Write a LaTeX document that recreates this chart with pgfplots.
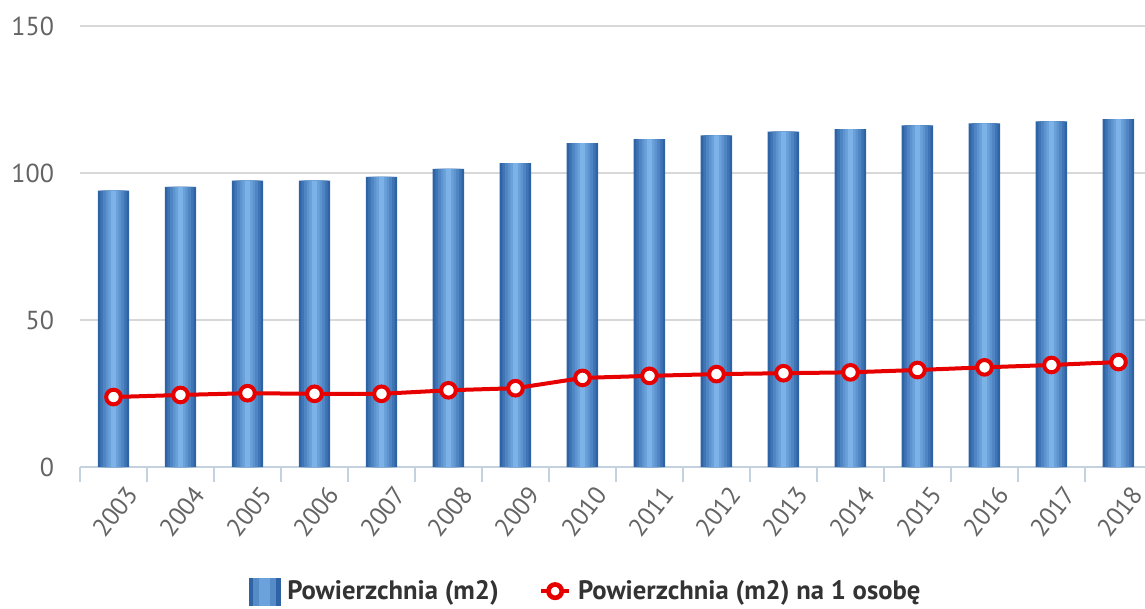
\documentclass[border=0pt]{standalone}
\usepackage{fontspec}
\setmainfont{PT Sans}
\usepackage{pgfplots}
\usepackage{pgfplotstable}
\pgfplotsset{compat=1.18}
\definecolor{barEdge}{RGB}{46,100,166}
\definecolor{barMid}{RGB}{124,178,232}
\definecolor{lineRed}{RGB}{230,0,0}
\definecolor{gridGray}{RGB}{216,216,216}
\definecolor{axisBlue}{RGB}{196,210,224}
\definecolor{tickGray}{RGB}{100,100,100}

\pgfplotstableread{
year area perperson
2003 94.0  23.8
2004 95.3  24.5
2005 97.4  25.1
2006 97.4  24.9
2007 98.7  24.9
2008 101.4 26.1
2009 103.4 26.8
2010 110.2 30.3
2011 111.5 31.0
2012 112.8 31.6
2013 114.1 31.9
2014 114.9 32.2
2015 116.2 33.0
2016 116.9 33.9
2017 117.6 34.7
2018 118.3 35.7
}\data

\begin{document}
\begin{tikzpicture}
\path[use as bounding box] (-60pt,-105.75pt) rectangle (798.75pt,350.25pt);
\begin{axis}[
    at={(0,0)}, anchor=south west,
    scale only axis,
    width=798.75pt, height=330.75pt,
    xmin=2002.5, xmax=2018.396,
    ymin=0, ymax=150,
    ytick={0,50,100,150},
    xtick={2003,...,2018},
    /pgf/number format/.cd, 1000 sep={}, assume math mode=true,
    /pgfplots/.cd,
    extra x ticks={2002.5,2003.5,...,2018.5},
    extra x tick labels={},
    extra x tick style={major tick length=11pt, tick style={draw=axisBlue, line width=1.2pt}, grid=none},
    major tick length=0pt,
    tick align=outside,
    xtick pos=bottom,
    axis x line*=bottom,
    axis y line*=left,
    x axis line style={draw=axisBlue, line width=1.5pt, -},
    y axis line style={draw=none},
    ymajorgrids,
    grid style={draw=gridGray, line width=1.2pt},
    xticklabel style={rotate=52, anchor=north east, font=\fontsize{19}{19}\selectfont, text=tickGray, xshift=-1.5pt, yshift=-11pt},
    yticklabel style={font=\fontsize{19.5}{19.5}\selectfont, text=tickGray, xshift=-16pt},
    legend columns=2,
    legend style={draw=none, fill=none, at={(0.475,-0.283)}, anchor=center,
        inner sep=0pt,
        font=\fontsize{20}{20}\selectfont\bfseries, text=black!80,
        /tikz/every even column/.append style={column sep=28pt},
        /tikz/every odd column/.append style={column sep=3pt}},
]
\addplot[ybar, bar shift=0pt, bar width=0.47, draw=none, fill=barEdge,
    legend image code/.code={
        \fill[barEdge] (0pt,-11pt) rectangle (24pt,10pt);
        \fill[barEdge!50!barMid] (3.5pt,-11pt) rectangle (20.5pt,10pt);
        \fill[barMid!80!barEdge] (8pt,-11pt) rectangle (16pt,10pt);}]
    table[x=year, y=area] {\data};
\addlegendentry{Powierzchnia (m2)}
\addplot[ybar, bar shift=0pt, bar width=0.39, draw=none, fill=barEdge!78!barMid, forget plot]
    table[x=year, y=area] {\data};
\addplot[ybar, bar shift=0pt, bar width=0.31, draw=none, fill=barEdge!58!barMid, forget plot]
    table[x=year, y=area] {\data};
\addplot[ybar, bar shift=0pt, bar width=0.23, draw=none, fill=barEdge!40!barMid, forget plot]
    table[x=year, y=area] {\data};
\addplot[ybar, bar shift=0pt, bar width=0.15, draw=none, fill=barEdge!22!barMid, forget plot]
    table[x=year, y=area] {\data};
\addplot[ybar, bar shift=0pt, bar width=0.07, draw=none, fill=barMid, forget plot]
    table[x=year, y=area] {\data};
\addplot[lineRed, line width=3pt, mark=*, mark size=5.5pt,
    mark options={fill=white, draw=lineRed, line width=3pt},
    legend image code/.code={
        \draw[lineRed, line width=3.5pt] (0pt,0pt) -- (21pt,0pt);
        \draw[lineRed, line width=3.5pt, fill=white] (10.5pt,0pt) circle (5pt);}]
    table[x=year, y=perperson] {\data};
\addlegendentry{Powierzchnia (m2) na 1 osobę}
\end{axis}
\end{tikzpicture}
\end{document}
